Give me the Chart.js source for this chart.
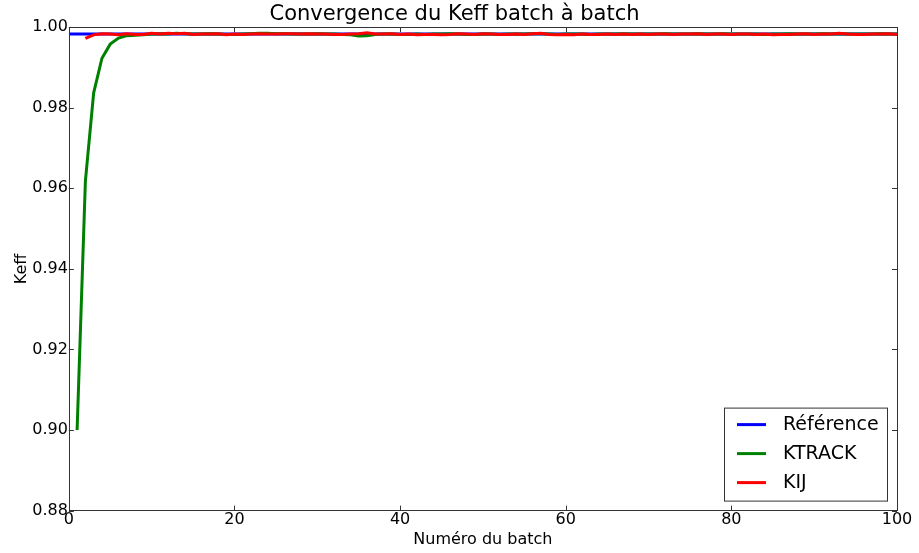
<!DOCTYPE html>
<html>
<head>
<meta charset="utf-8">
<script src="https://cdn.jsdelivr.net/npm/chart.js@4.4.0/dist/chart.umd.min.js"></script>
<style>
  html, body { margin: 0; padding: 0; background: #fff; }
  #wrap { width: 919px; height: 553px; }
</style>
</head>
<body>
<div id="wrap"><canvas id="mycanvas" width="919" height="553"></canvas></div>
<script>
// reference value (constant line over the whole range)
var refBatch = [0, 100];
var refKeff = [0.9983, 0.9983];

// KTRACK, batches 1..100
var ktrack = [
  0.9000, 0.9618, 0.9837, 0.9923, 0.9958, 0.9973, 0.9979, 0.9980, 0.9981, 0.9983,
  0.9984, 0.9983, 0.9985, 0.9984, 0.9983, 0.9983, 0.9984, 0.9983, 0.9982, 0.9982,
  0.9983, 0.9984, 0.9985, 0.9985, 0.9984, 0.9984, 0.9983, 0.9983, 0.9983, 0.9984,
  0.9983, 0.9983, 0.9982, 0.9981, 0.9978, 0.9979, 0.9982, 0.9983, 0.9983, 0.9982,
  0.9982, 0.9983, 0.9982, 0.9983, 0.9983, 0.9984, 0.9983, 0.9982, 0.9982, 0.9983,
  0.9983, 0.9982, 0.9983, 0.9983, 0.9983, 0.9984, 0.9984, 0.9983, 0.9982, 0.9983,
  0.9983, 0.9983, 0.9982, 0.9983, 0.9983, 0.9983, 0.9984, 0.9983, 0.9983, 0.9983,
  0.9983, 0.9984, 0.9983, 0.9983, 0.9983, 0.9984, 0.9983, 0.9983, 0.9984, 0.9983,
  0.9983, 0.9983, 0.9983, 0.9982, 0.9983, 0.9983, 0.9984, 0.9983, 0.9983, 0.9983,
  0.9984, 0.9983, 0.9984, 0.9983, 0.9983, 0.9983, 0.9983, 0.9984, 0.9983, 0.9983
];

// KIJ, batches 2..100
var kij = [
  0.9972, 0.9981, 0.9984, 0.9983, 0.9981, 0.9984, 0.9982, 0.9982, 0.9985,
  0.9983, 0.9985, 0.9984, 0.9985, 0.9982, 0.9983, 0.9983, 0.9984, 0.9981, 0.9983,
  0.9982, 0.9983, 0.9984, 0.9983, 0.9983, 0.9984, 0.9984, 0.9983, 0.9984, 0.9983,
  0.9983, 0.9982, 0.9982, 0.9983, 0.9984, 0.9986, 0.9983, 0.9983, 0.9984, 0.9982,
  0.9983, 0.9981, 0.9982, 0.9982, 0.9981, 0.9982, 0.9984, 0.9983, 0.9982, 0.9984,
  0.9983, 0.9982, 0.9982, 0.9983, 0.9982, 0.9984, 0.9985, 0.9982, 0.9981, 0.9982,
  0.9981, 0.9983, 0.9982, 0.9982, 0.9983, 0.9982, 0.9983, 0.9982, 0.9983, 0.9982,
  0.9983, 0.9983, 0.9982, 0.9983, 0.9983, 0.9984, 0.9982, 0.9983, 0.9983, 0.9982,
  0.9983, 0.9983, 0.9982, 0.9983, 0.9981, 0.9982, 0.9982, 0.9983, 0.9984, 0.9982,
  0.9983, 0.9983, 0.9985, 0.9983, 0.9982, 0.9982, 0.9983, 0.9983, 0.9984, 0.9982
];

var xTicks = [0, 20, 40, 60, 80, 100];
var yTicks = [0.88, 0.90, 0.92, 0.94, 0.96, 0.98, 1.00];

function toPoints(xs, ys) {
  var pts = [];
  for (var i = 0; i < ys.length; i++) pts.push({x: xs[i], y: ys[i]});
  return pts;
}
function seriesPoints(start, ys) {
  var pts = [];
  for (var i = 0; i < ys.length; i++) pts.push({x: start + i, y: ys[i]});
  return pts;
}

var FONT = "'DejaVu Sans', sans-serif";

// matplotlib-like frame: border box, inward ticks, legend inside lower right
var framePlugin = {
  id: 'frame',
  afterDraw: function(chart) {
    var ctx = chart.ctx, a = chart.chartArea;
    var xs = chart.scales.x, ys = chart.scales.y;
    ctx.save();
    ctx.strokeStyle = '#333';
    ctx.lineWidth = 1;
    ctx.beginPath();
    xTicks.forEach(function(v) {
      var px = Math.round(xs.getPixelForValue(v)) + 0.5;
      ctx.moveTo(px, a.bottom); ctx.lineTo(px, a.bottom - 5);
      ctx.moveTo(px, a.top); ctx.lineTo(px, a.top + 5);
    });
    yTicks.forEach(function(v) {
      var py = Math.round(ys.getPixelForValue(v)) + 0.5;
      ctx.moveTo(a.left, py); ctx.lineTo(a.left + 5, py);
      ctx.moveTo(a.right, py); ctx.lineTo(a.right - 5, py);
    });
    ctx.stroke();
    ctx.strokeRect(Math.round(a.left) + 0.5, Math.round(a.top) + 0.5,
                   Math.round(a.right - a.left), Math.round(a.bottom - a.top));

    // legend
    var items = [['Référence', '#0000ff'], ['KTRACK', '#008000'], ['KIJ', '#ff0000']];
    var w = 163, h = 93;
    var lx = a.right - 173, ly = a.bottom - 103;
    ctx.fillStyle = '#fff';
    ctx.fillRect(lx, ly, w, h);
    ctx.strokeRect(lx + 0.5, ly + 0.5, w, h);
    ctx.font = '19px ' + FONT;
    ctx.textBaseline = 'middle';
    items.forEach(function(it, i) {
      var y = ly + 17 + i * 29;
      ctx.strokeStyle = it[1];
      ctx.lineWidth = 3;
      ctx.beginPath();
      ctx.moveTo(lx + 13, y); ctx.lineTo(lx + 42, y);
      ctx.stroke();
      ctx.fillStyle = '#000';
      ctx.fillText(it[0], lx + 59, y);
    });
    ctx.restore();
  }
};

var ctx = document.getElementById('mycanvas');
var chart = new Chart(ctx, {
  type: 'line',
  data: {
    datasets: [
      { label: 'Référence', data: toPoints(refBatch, refKeff), borderColor: '#0000ff', order: 3 },
      { label: 'KTRACK', data: seriesPoints(1, ktrack), borderColor: '#008000', order: 2 },
      { label: 'KIJ', data: seriesPoints(2, kij), borderColor: '#ff0000', order: 1 }
    ]
  },
  options: {
    responsive: false,
    animation: false,
    layout: { padding: { left: 12, right: 22, top: 0, bottom: 4 } },
    elements: {
      line: { borderWidth: 3, tension: 0, fill: false },
      point: { radius: 0 }
    },
    plugins: {
      legend: { display: false },
      tooltip: { enabled: false },
      title: {
        display: true,
        text: 'Convergence du Keff batch à batch',
        color: '#000',
        font: { family: FONT, size: 21, weight: 'normal' },
        padding: { top: 2, bottom: 0 }
      }
    },
    scales: {
      x: {
        type: 'linear',
        min: 0, max: 100,
        afterBuildTicks: function(s) { s.ticks = xTicks.map(function(v) { return {value: v}; }); },
        grid: { display: false, drawTicks: false },
        border: { display: false },
        ticks: { color: '#000', font: { family: FONT, size: 16 }, padding: 0, maxRotation: 0 },
        title: { display: true, text: 'Numéro du batch', color: '#000', font: { family: FONT, size: 16 }, padding: { top: 0, bottom: 0 } }
      },
      y: {
        min: 0.88, max: 1.00,
        afterBuildTicks: function(s) { s.ticks = yTicks.map(function(v) { return {value: v}; }); },
        grid: { display: false, drawTicks: false },
        border: { display: false },
        ticks: {
          color: '#000', font: { family: FONT, size: 16 }, padding: 1,
          callback: function(v) { return Number(v).toFixed(2); }
        },
        title: { display: true, text: 'Keff', color: '#000', font: { family: FONT, size: 16 }, padding: { top: 0, bottom: 0 } }
      }
    }
  },
  plugins: [framePlugin]
});
</script>
</body>
</html>
